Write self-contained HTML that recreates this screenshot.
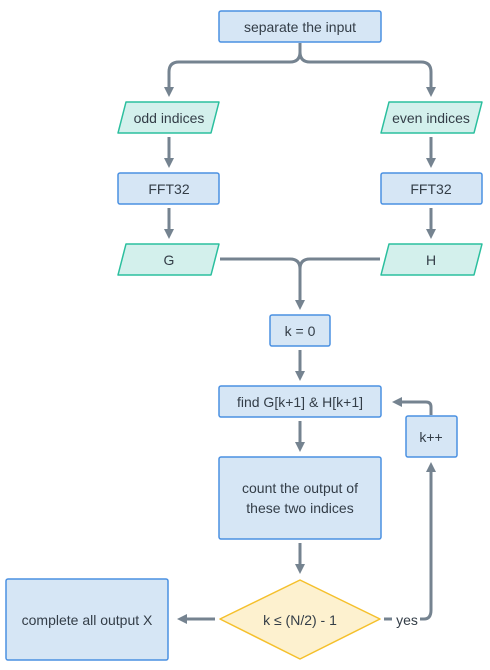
<!DOCTYPE html>
<html><head><meta charset="utf-8"><style>
html,body{margin:0;padding:0;background:#fff;width:490px;height:670px;overflow:hidden}
svg text{font-family:"Liberation Sans",sans-serif;font-size:14px;fill:#333d47;text-anchor:middle;dominant-baseline:central}
</style></head><body>
<svg width="490" height="670" viewBox="0 0 490 670" xmlns="http://www.w3.org/2000/svg">
<defs>
<marker id="a" markerWidth="10" markerHeight="10" refX="5" refY="5" orient="auto" markerUnits="userSpaceOnUse">
<path d="M0,0 L10,5 L0,10 Z" fill="#758390"/></marker>
</defs>
<g fill="none" stroke="#758390" stroke-width="3" stroke-linecap="butt">
<path d="M300,43 V52 Q300,62 290,62 H179 Q169,62 169,72 V92" marker-end="url(#a)"/>
<path d="M300,52 Q300,62 310,62 H421 Q431,62 431,72 V92" marker-end="url(#a)"/>
<path d="M169,137 V163" marker-end="url(#a)"/>
<path d="M431,137 V163" marker-end="url(#a)"/>
<path d="M169,208 V234" marker-end="url(#a)"/>
<path d="M431,208 V234" marker-end="url(#a)"/>
<path d="M220,259 H290 Q300,259 300,269 V305" marker-end="url(#a)"/>
<path d="M380,259 H310 Q300,259 300,269"/>
<path d="M300,350 V376" marker-end="url(#a)"/>
<path d="M300,421 V447" marker-end="url(#a)"/>
<path d="M300,543 V569" marker-end="url(#a)"/>
<path d="M215,619 H182" marker-end="url(#a)"/>
<path d="M431,415 V407 Q431,402 426,402 H397" marker-end="url(#a)"/>
<path d="M384,619 H392"/>
<path d="M420,619 H424 Q431,619 431,610 V467" marker-end="url(#a)"/>
</g>
<g stroke="#4a90e2" stroke-width="1.5" fill="#d6e6f5">
<rect x="219" y="11" width="162" height="31" rx="2"/>
<rect x="118" y="173" width="101" height="31" rx="2"/>
<rect x="381" y="173" width="101" height="31" rx="2"/>
<rect x="270" y="315" width="60" height="31" rx="2"/>
<rect x="219" y="386" width="162" height="31" rx="2"/>
<rect x="406" y="416" width="51" height="41" rx="2"/>
<rect x="219" y="457" width="162" height="82" rx="2"/>
<rect x="6" y="579" width="162" height="81" rx="2"/>
</g>
<g stroke="#2bbf9e" stroke-width="1.5" fill="#d3f0ec" stroke-linejoin="round">
<path d="M126,102 H219 L211,133 H118 Z"/>
<path d="M389,102 H482 L474,133 H381 Z"/>
<path d="M126,244 H219 L211,275 H118 Z"/>
<path d="M389,244 H482 L474,275 H381 Z"/>
</g>
<path d="M300,580 L380,619 L300,659 L220,619 Z" fill="#fdf1cf" stroke="#f5c02c" stroke-width="1.5" stroke-linejoin="round"/>
<text x="300" y="27">separate the input</text>
<text x="169" y="118">odd indices</text>
<text x="431" y="118">even indices</text>
<text x="169" y="189">FFT32</text>
<text x="431" y="189">FFT32</text>
<text x="169" y="260">G</text>
<text x="431" y="260">H</text>
<text x="300" y="331">k = 0</text>
<text x="300" y="402">find G[k+1] &amp; H[k+1]</text>
<text x="431" y="437">k++</text>
<text x="300" y="488">count the output of</text>
<text x="300" y="508">these two indices</text>
<text x="300" y="620">k ≤ (N/2) - 1</text>
<text x="87" y="620">complete all output X</text>
<text x="407" y="620">yes</text>
</svg>
</body></html>
